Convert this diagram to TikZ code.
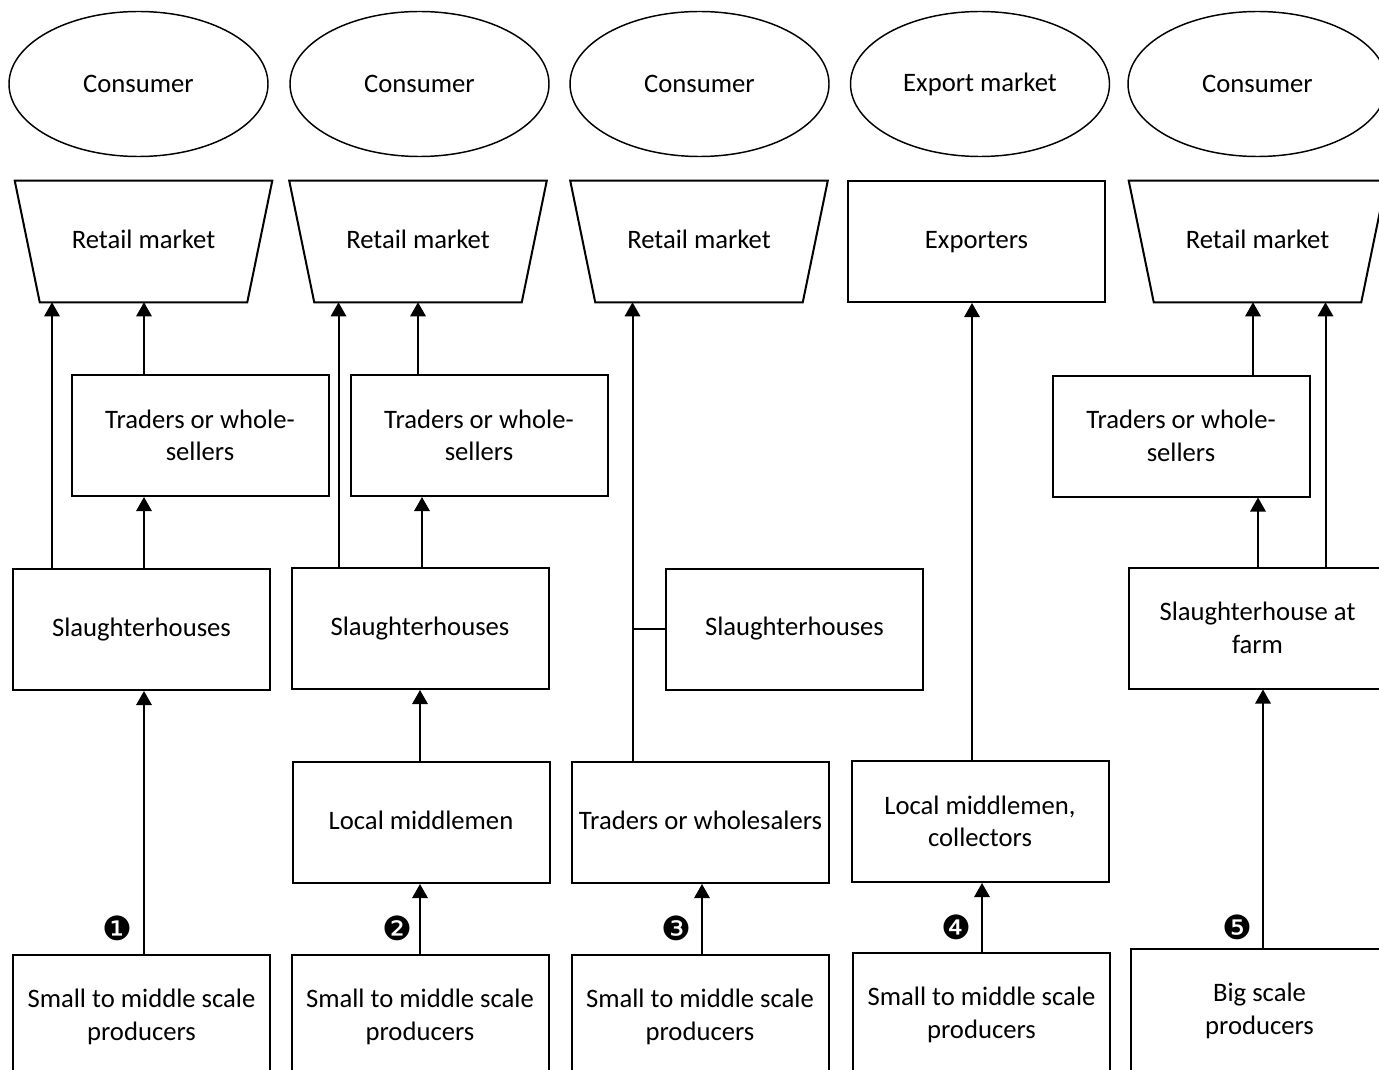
\documentclass[tikz,border=0pt]{standalone}
\usepackage{fontspec}
\setmainfont{Carlito}
\newfontfamily\dingfont{DejaVu Sans}
\usetikzlibrary{arrows.meta,shapes.geometric}
\begin{document}
\begin{tikzpicture}[x=0.75pt,y=-0.75pt,
  every node/.style={font=\fontsize{20}{24.5}\selectfont, align=center, inner sep=0pt},
  cons/.style={draw, ellipse, line width=1.1pt, minimum width=194.25pt, minimum height=108.75pt},
  box/.style={draw, rectangle, line width=1.5pt, minimum width=192.75pt, minimum height=90.75pt},
  pbox/.style={box, minimum height=93pt},
  trapbox/.style={rectangle, minimum width=192.75pt, minimum height=90.75pt},
  trap/.style={line width=1.5pt},
  arr/.style={line width=1.5pt, -{Triangle[width=11.5pt,length=10.5pt]}},
  ln/.style={line width=1.5pt},
  num/.style={font=\dingfont\fontsize{25}{25}\selectfont}
]
\useasboundingbox (0,0) rectangle (1379,1070);
\clip (0,0) rectangle (1379,1070);

% consumers / markets
\node[cons] (e1) at (138.5,84) {Consumer};
\node[cons] (e2) at (419.5,84) {Consumer};
\node[cons] (e3) at (699.5,84) {Consumer};
\node[cons] (e4) at (980,84) {Export market};
\node[cons] (e5) at (1257.5,84) {Consumer};

% retail markets (trapezoids) and exporters
\node[trapbox] (r1) at (143.5,241.5) {\strut Retail market};
\node[trapbox] (r2) at (418,241.5) {\strut Retail market};
\node[trapbox] (r3) at (699,241.5) {\strut Retail market};
\node[box] (ex) at (976.5,241.5) {\strut Exporters};
\node[trapbox] (r5) at (1257.5,241.5) {\strut Retail market};
\foreach \r in {r1,r2,r3,r5}{
  \draw[trap] (\r.north west) -- (\r.north east) -- ([xshift=-18.75pt]\r.south east)
    -- ([xshift=18.75pt]\r.south west) -- cycle;
}

% traders
\node[box] (t1) at (200,435.5) {Traders or whole-\\sellers};
\node[box] (t2) at (479,435.5) {Traders or whole-\\sellers};
\node[box] (t5) at (1181,436) {Traders or whole-\\sellers};

% slaughterhouses
\node[box] (s1) at (141.5,629.5) {\strut Slaughterhouses};
\node[box] (s2) at (420,628.5) {\strut Slaughterhouses};
\node[box] (s3) at (794.5,629) {\strut Slaughterhouses};
\node[box] (s5) at (1257.5,628) {Slaughterhouse at\\farm};

% middle row
\node[box] (l2) at (421,822.5) {\strut Local middlemen};
\node[box] (w3) at (700.5,822.5) {\strut Traders or wholesalers};
\node[box] (l4) at (980,821.5) {Local middlemen,\\collectors};

% producers
\node[pbox] (p1) at (141.5,1017) {Small to middle scale\\producers};
\node[pbox] (p2) at (420,1017) {Small to middle scale\\producers};
\node[pbox] (p3) at (700,1017) {Small to middle scale\\producers};
\node[pbox] (p4) at (981.5,1015) {Small to middle scale\\producers};
\node[pbox] (p5) at (1259.5,1011) {Big scale\\producers};

% numbers
\node[num] (n1) at (117,928) {❶};
\node[num] (n2) at (397,928) {❷};
\node[num] (n3) at (676,928) {❸};
\node[num] (n4) at (956,927) {❹};
\node[num] (n5) at (1237,927) {❺};

% connector x positions
\coordinate (c1a) at (52,0);
\coordinate (c1b) at (144,0);
\coordinate (c2a) at (338.5,0);
\coordinate (c2b) at (418,0);
\coordinate (c2c) at (422,0);
\coordinate (c2d) at (420,0);
\coordinate (c3a) at (632.5,0);
\coordinate (c3b) at (702,0);
\coordinate (c4a) at (972,0);
\coordinate (c4b) at (982,0);
\coordinate (c5a) at (1253,0);
\coordinate (c5b) at (1258,0);
\coordinate (c5c) at (1325.5,0);
\coordinate (c5d) at (1263,0);

% column 1
\draw[arr] (s1.north -| c1a) -- (r1.south -| c1a);
\draw[arr] (s1.north -| c1b) -- (t1.south -| c1b);
\draw[arr] (t1.north -| c1b) -- (r1.south -| c1b);
\draw[arr] (p1.north -| c1b) -- (s1.south -| c1b);
% column 2
\draw[arr] (s2.north -| c2a) -- (r2.south -| c2a);
\draw[arr] (t2.north -| c2b) -- (r2.south -| c2b);
\draw[arr] (s2.north -| c2c) -- (t2.south -| c2c);
\draw[arr] (l2.north -| c2d) -- (s2.south -| c2d);
\draw[arr] (p2.north -| c2d) -- (l2.south -| c2d);
% column 3
\draw[arr] (w3.north -| c3a) -- (r3.south -| c3a);
\draw[ln] (s3.west -| c3a) -- (s3.west);
\draw[arr] (p3.north -| c3b) -- (w3.south -| c3b);
% column 4
\draw[arr] (l4.north -| c4a) -- (ex.south -| c4a);
\draw[arr] (p4.north -| c4b) -- (l4.south -| c4b);
% column 5
\draw[arr] (t5.north -| c5a) -- (r5.south -| c5a);
\draw[arr] (s5.north -| c5b) -- (t5.south -| c5b);
\draw[arr] (s5.north -| c5c) -- (r5.south -| c5c);
\draw[arr] (p5.north -| c5d) -- (s5.south -| c5d);
\end{tikzpicture}
\end{document}
